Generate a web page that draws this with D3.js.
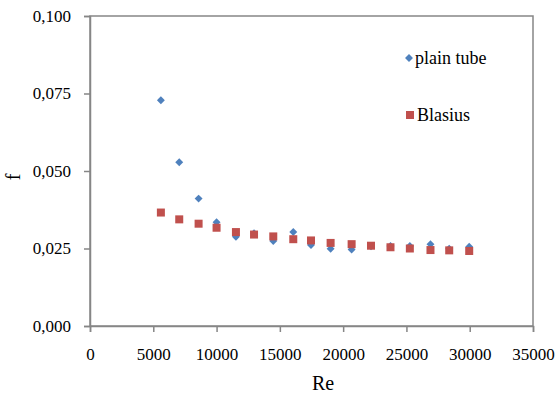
<!DOCTYPE html>
<html>
<head>
<meta charset="utf-8">
<script src="https://cdn.jsdelivr.net/npm/d3@7"></script>
<style>
  html, body { margin: 0; padding: 0; background: #fff; }
  svg { display: block; }
  svg text { font-family: "Liberation Serif", "Times New Roman", "DejaVu Serif", serif !important; fill: #000; }
</style>
</head>
<body>
<svg id="chart" width="557" height="393"></svg>
<script>
// Reynolds numbers of the measurement points
const reValues = [5600, 7050, 8580, 10000, 11530, 12960, 14480, 16060, 17460, 19010, 20670, 22200, 23740, 25270, 26900, 28380, 29960];
// friction factor, plain tube (measured)
const plainTube = [0.0728, 0.0528, 0.0411, 0.0335, 0.0288, 0.0299, 0.0274, 0.0303, 0.0261, 0.0249, 0.0247, 0.0257, 0.0258, 0.0258, 0.0264, 0.0249, 0.0256];
// friction factor, Blasius correlation
const blasius = [0.0366, 0.0344, 0.0330, 0.0317, 0.0303, 0.0295, 0.0289, 0.0280, 0.0276, 0.0268, 0.0264, 0.0259, 0.0254, 0.0250, 0.0245, 0.0244, 0.0242];

const xTicks = [0, 5000, 10000, 15000, 20000, 25000, 30000, 35000];
const yTicks = [0, 0.025, 0.05, 0.075, 0.1];
const legendLabels = ['plain tube', 'Blasius'];

const margin = { left: 90, top: 16, right: 24, bottom: 67 };
const width = 557, height = 393;
const axisColor = '#868686';

const svg = d3.select('#chart');

const x = d3.scaleLinear().domain([0, 35000]).range([margin.left, width - margin.right]);
const y = d3.scaleLinear().domain([0, 0.1]).range([height - margin.bottom, margin.top]);

// plot area border
svg.append('rect')
  .attr('x', x(0)).attr('y', y(0.1))
  .attr('width', x(35000) - x(0)).attr('height', y(0) - y(0.1))
  .attr('fill', 'none').attr('stroke', axisColor).attr('stroke-width', 1.5);

const xAxis = svg.append('g')
  .attr('transform', `translate(0,${y(0)})`)
  .call(d3.axisBottom(x).tickValues(xTicks).tickSize(6).tickPadding(16).tickFormat(d3.format('d')));

const comma = d => d.toFixed(3).replace('.', ',');
const yAxis = svg.append('g')
  .attr('transform', `translate(${x(0)},0)`)
  .call(d3.axisLeft(y).tickValues(yTicks).tickSize(6).tickPadding(13).tickFormat(comma));

[xAxis, yAxis].forEach(g => {
  g.attr('font-family', null);
  g.select('.domain').attr('stroke', axisColor).attr('stroke-width', 1.5);
  g.selectAll('.tick line').attr('stroke', axisColor).attr('stroke-width', 1.5);
  g.selectAll('.tick text')
    .attr('fill', '#000')
    .style('font-size', '17px');
});

// axis titles
svg.append('text')
  .attr('x', 323).attr('y', 390)
  .attr('text-anchor', 'middle')
  .style('font-size', '20px')
  .text('Re');

svg.append('text')
  .attr('transform', `translate(20,${y(0.05) + 6}) rotate(-90)`)
  .attr('text-anchor', 'middle')
  .style('font-size', '20px')
  .text('f');

const blue = '#4F81BD', red = '#C0504D';
const diamond = d3.symbol().type(d3.symbolDiamond2).size(40);

// measured diamonds first, Blasius squares drawn over them
svg.append('g')
  .selectAll('path')
  .data(reValues.map((re, i) => [re, plainTube[i]]))
  .join('path')
  .attr('d', diamond)
  .attr('transform', d => `translate(${x(d[0])},${y(d[1])})`)
  .attr('fill', blue);

svg.append('g')
  .selectAll('rect')
  .data(reValues.map((re, i) => [re, blasius[i]]))
  .join('rect')
  .attr('x', d => x(d[0]) - 4)
  .attr('y', d => y(d[1]) - 4)
  .attr('width', 8).attr('height', 8)
  .attr('fill', red);

// legend
const legend = svg.append('g');
legend.append('path')
  .attr('d', diamond)
  .attr('transform', 'translate(409,58)')
  .attr('fill', blue);
legend.append('rect')
  .attr('x', 406).attr('y', 111).attr('width', 8).attr('height', 8)
  .attr('fill', red);
legend.selectAll('text')
  .data(legendLabels)
  .join('text')
  .attr('x', (d, i) => i === 0 ? 415 : 417)
  .attr('y', (d, i) => i === 0 ? 64 : 121)
  .style('font-size', '18px')
  .text(d => d);
</script>
</body>
</html>
